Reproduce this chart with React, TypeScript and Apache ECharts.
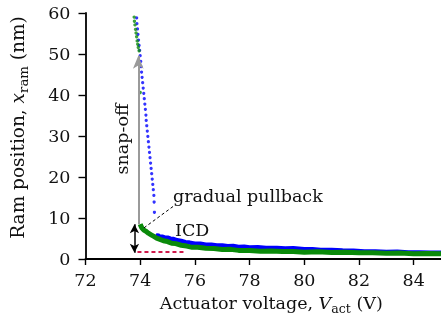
import { useEffect, useRef } from "react";
import * as echarts from "echarts";

// Axis ranges (V and nm)
const xRange = [72, 85];
const yRange = [0, 60];

// Blue sweep: sparse dotted descent, then the noisy tail
const blueDescent: [number, number][] = [
  [73.85, 60.1], [73.87, 58.8], [73.88, 57.4], [73.9, 56.1], [73.92, 54.8], [73.94, 53.4],
  [73.96, 52.1], [73.98, 50.9], [74.0, 49.6], [74.02, 48.2], [74.03, 46.9], [74.05, 45.6],
  [74.07, 44.3], [74.09, 43.0], [74.11, 41.7], [74.13, 40.4], [74.15, 39.1], [74.17, 37.8],
  [74.19, 36.5], [74.21, 35.1], [74.22, 33.8], [74.24, 32.5], [74.26, 31.2], [74.28, 29.9],
  [74.3, 28.6], [74.32, 27.3], [74.34, 26.0], [74.36, 24.7], [74.38, 23.4], [74.4, 22.1],
  [74.42, 20.8], [74.44, 19.5], [74.46, 18.2], [74.48, 16.9], [74.5, 15.5], [74.51, 13.9],
  [74.52, 11.4],
];
const blueTail: [number, number][] = [
  [74.55, 5.8], [74.6, 5.6], [74.65, 5.75], [74.7, 5.5], [74.8, 5.45], [74.9, 5.2],
  [75.0, 5.2], [75.1, 4.95], [75.2, 4.9], [75.35, 4.55], [75.5, 4.4], [75.65, 4.1],
  [75.8, 4.0], [76.0, 3.75], [76.2, 3.7], [76.4, 3.5], [76.6, 3.5], [76.8, 3.3],
  [77.0, 3.3], [77.2, 3.1], [77.4, 3.15], [77.6, 2.95], [77.8, 3.0], [78.0, 2.8],
  [78.3, 2.85], [78.6, 2.7], [79.0, 2.7], [79.3, 2.55], [79.6, 2.6], [80.0, 2.4],
  [80.3, 2.4], [80.6, 2.2], [81.0, 2.2], [81.4, 2.05], [81.8, 2.0], [82.2, 1.85],
  [82.6, 1.85], [83.0, 1.7], [83.4, 1.75], [83.8, 1.6], [84.2, 1.6], [84.6, 1.5],
  [85.0, 1.5],
];

// Green sweep: dense top segment, a stray point, then the gradual pullback tail
const greenTop: [number, number][] = [
  [73.76, 60.1], [73.78, 59.0], [73.79, 58.0], [73.81, 57.1], [73.83, 56.0], [73.85, 55.1],
  [73.87, 54.2], [73.89, 53.2], [73.91, 52.4], [73.93, 51.6], [73.96, 50.8], [74.0, 40.6],
];
const greenTail: [number, number][] = [
  [74.0, 8.5], [74.03, 8.0], [74.06, 7.6], [74.1, 7.3], [74.15, 7.0], [74.2, 6.8],
  [74.3, 6.3], [74.4, 5.9], [74.5, 5.5], [74.6, 5.1], [74.7, 4.85], [74.85, 4.45],
  [75.0, 4.25], [75.15, 3.85], [75.3, 3.75], [75.5, 3.35], [75.7, 3.15], [75.9, 2.85],
  [76.1, 2.85], [76.4, 2.6], [76.7, 2.55], [77.0, 2.3], [77.3, 2.35], [77.6, 2.1],
  [78.0, 2.05], [78.4, 1.9], [78.8, 1.95], [79.2, 1.8], [79.6, 1.8], [80.0, 1.65],
  [80.5, 1.75], [81.0, 1.6], [81.5, 1.65], [82.0, 1.5], [82.5, 1.55], [83.0, 1.4],
  [83.5, 1.45], [84.0, 1.3], [84.5, 1.35], [85.0, 1.25],
];

// Annotation geometry in data units
const icdLevel: [number, number][] = [[73.9, 1.7], [75.67, 1.7]];
const icdArrow: [number, number][] = [[73.79, 1.5], [73.79, 8.5]];
const snapArrow: [number, number][] = [[73.93, 8.5], [73.93, 49.6]];
const pullbackLeader: [number, number][] = [[74.14, 7.6], [75.2, 12.8]];

const FONT = "DejaVu Serif";
const FS = 17.5;

export default function App() {
  const ref = useRef<HTMLDivElement>(null);

  useEffect(() => {
    document.body.style.margin = "0";
    const chart = echarts.init(ref.current!, undefined, { renderer: "svg" });
    const axisLine = { lineStyle: { color: "#000", width: 1.8 } };
    const makeRich = (size: number) => ({
      n: { fontFamily: FONT, fontSize: size, color: "#111", lineHeight: 24 },
      i: { fontFamily: FONT, fontSize: size, fontStyle: "italic", color: "#111", lineHeight: 24 },
      s: { fontFamily: FONT, fontSize: size * 0.72, color: "#111", lineHeight: 12, verticalAlign: "bottom" },
    });

    chart.setOption({
      animation: false,
      grid: { left: 79, top: 13, right: -7, bottom: 67 },
      xAxis: {
        type: "value",
        min: xRange[0],
        max: xRange[1],
        interval: 2,
        axisLine: { show: true, ...axisLine },
        axisTick: { show: true, length: 6, lineStyle: { color: "#000", width: 1.4 } },
        axisLabel: { fontFamily: FONT, fontSize: FS, color: "#111", margin: 12, showMaxLabel: false },
        splitLine: { show: false },
        name: "{n|Actuator voltage, }{i|V}{s|act}{n| (V)}",
        nameLocation: "middle",
        nameGap: 32,
        nameTextStyle: { rich: makeRich(FS), padding: [0, 0, 0, 16] },
      },
      yAxis: {
        type: "value",
        min: yRange[0],
        max: yRange[1],
        interval: 10,
        axisLine: { show: true, ...axisLine },
        axisTick: { show: true, length: 7, lineStyle: { color: "#000", width: 1.4 } },
        axisLabel: { fontFamily: FONT, fontSize: FS, color: "#111", margin: 15 },
        splitLine: { show: false },
        name: "{n|Ram position, }{i|x}{s|ram}{n| (nm)}",
        nameLocation: "middle",
        nameGap: 56,
        nameTextStyle: { rich: makeRich(18.5), padding: [0, 0, 0, 17] },
      },
      series: [
        {
          type: "scatter",
          data: blueDescent,
          symbol: "circle",
          symbolSize: 3.2,
          itemStyle: { color: "#0000ff" },
          silent: true,
        },
        {
          type: "line",
          data: blueTail,
          showSymbol: false,
          lineStyle: { color: "#0000ff", width: 4.5 },
          silent: true,
        },
        {
          type: "line",
          data: greenTail,
          showSymbol: false,
          lineStyle: { color: "#0a8a0a", width: 5 },
          silent: true,
        },
        {
          type: "scatter",
          data: greenTop,
          symbol: "circle",
          symbolSize: 3.4,
          itemStyle: { color: "#0a8a0a" },
          silent: true,
        },
        {
          type: "line",
          data: icdLevel,
          showSymbol: false,
          lineStyle: { color: "#d0194b", width: 2, type: [4, 3] },
          silent: true,
        },
        {
          type: "line",
          data: pullbackLeader,
          showSymbol: false,
          lineStyle: { color: "#000", width: 1, type: [3, 2.5] },
          silent: true,
        },
        {
          type: "line",
          data: [],
          silent: true,
          markLine: {
            silent: true,
            label: { show: false },
            emphasis: { disabled: true },
            data: [
              [
                { coord: snapArrow[0], symbol: "none" },
                {
                  coord: snapArrow[1],
                  symbol: "arrow",
                  symbolSize: [8, 13],
                  lineStyle: { color: "#9a9a9a", width: 2, type: "solid" },
                },
              ],
              [
                { coord: icdArrow[0], symbol: "arrow", symbolSize: [7, 9] },
                {
                  coord: icdArrow[1],
                  symbol: "arrow",
                  symbolSize: [7, 9],
                  lineStyle: { color: "#000", width: 1.5, type: "solid" },
                },
              ],
            ],
          },
        },
      ],
      graphic: [
        {
          type: "text",
          x: 122,
          y: 139,
          rotation: Math.PI / 2,
          style: {
            text: "snap-off",
            font: `${FS}px "${FONT}"`,
            fill: "#111",
            align: "center",
            verticalAlign: "middle",
          },
        },
        {
          type: "text",
          x: 173,
          y: 196,
          style: {
            text: "gradual pullback",
            font: `${FS}px "${FONT}"`,
            fill: "#111",
            align: "left",
            verticalAlign: "middle",
          },
        },
        {
          type: "text",
          x: 175,
          y: 230,
          style: {
            text: "ICD",
            font: `${FS}px "${FONT}"`,
            fill: "#111",
            align: "left",
            verticalAlign: "middle",
          },
        },
      ],
    });

    return () => chart.dispose();
  }, []);

  return (
    <div
      ref={ref}
      style={{ position: "fixed", left: 0, top: 0, width: 441, height: 326 }}
    />
  );
}
